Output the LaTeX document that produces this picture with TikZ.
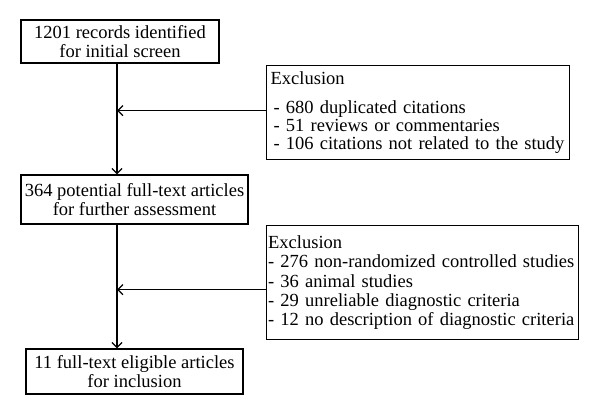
\documentclass[tikz,border=0pt]{standalone}
\usepackage{fontspec}
\setmainfont{Liberation Serif}
\usetikzlibrary{positioning,arrows.meta}

\begin{document}
\begin{tikzpicture}[x=1pt, y=-1pt,
  box/.style={draw, line width=1.3pt, inner sep=2pt, align=center,
              font=\fontsize{18.5}{18.5}\selectfont},
  exbox/.style={draw, line width=1.3pt, inner xsep=1.5pt, inner ysep=2pt, align=left, anchor=north west,
              font=\fontsize{18.5}{19.2}\selectfont},
  arr/.style={-{Straight Barb[length=5pt, width=10pt]}, line width=1.3pt}
]
  \useasboundingbox (0,0) rectangle (600,415);

  % Main flow
  \node[box, minimum width=198pt, minimum height=43pt] (records) at (120,41.5)
    {1201 records identified\\for initial screen};
  \node[box, minimum width=227pt, minimum height=49pt] (potential) at (134.5,199.5)
    {364 potential full-text articles\\for further assessment};
  \node[box, minimum width=217pt, minimum height=45pt] (eligible) at (134.5,371.5)
    {11 full-text eligible articles\\for inclusion};
  \coordinate (trunk) at (117,0);

  % Exclusions
  \node[exbox, inner xsep=4pt, text width=295pt, minimum height=94pt,
        font=\fontsize{18.5}{18}\selectfont] (excl1) at (266,65)
    {Exclusion\\[11pt]\hspace{3pt}- 680 duplicated citations\\\hspace{3pt}- 51 reviews or commentaries\\\hspace{3pt}- 106 citations not related to the study};
  \node[exbox, text width=309pt, minimum height=114pt] (excl2) at (266,225)
    {Exclusion\\- 276 non-randomized controlled studies\\- 36 animal studies\\- 29 unreliable diagnostic criteria\\- 12 no description of diagnostic criteria};

  % Connectors
  \draw[arr] (records.south -| trunk) -- (potential.north -| trunk);
  \draw[arr] (potential.south -| trunk) -- (eligible.north -| trunk);
  \draw[arr] ([yshift=2pt]excl1.west) -- ([yshift=2pt]excl1.west -| trunk);
  \draw[arr] ([yshift=-7pt]excl2.west) -- ([yshift=-7pt]excl2.west -| trunk);
\end{tikzpicture}
\end{document}
